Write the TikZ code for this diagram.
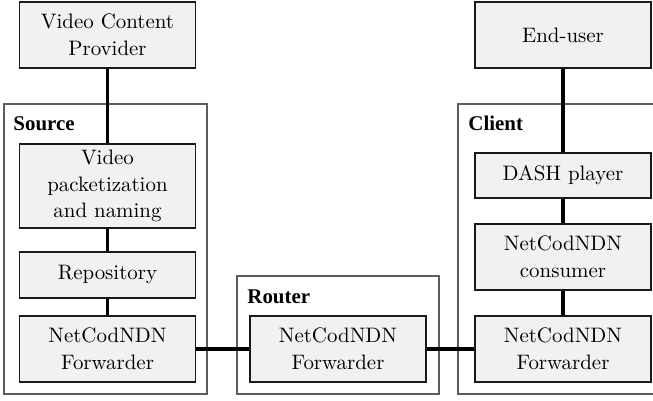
\documentclass[tikz,border=0pt]{standalone}
\usepackage{fontspec}
\newfontfamily\framefont{Liberation Serif}
\usetikzlibrary{calc}
\definecolor{BoxFill}{HTML}{F1F1F1}
\definecolor{FrameGray}{HTML}{5C5C5C}
\tikzset{
    block/.style={draw=black!90, fill=BoxFill, line width=.8pt, minimum width=84pt, inner sep=0pt, align=center, font=\fontsize{10pt}{12.7pt}\selectfont},
    frame/.style={draw=FrameGray, line width=.7pt},
    framelabel/.style={anchor=base west, inner sep=0pt, font=\framefont\bfseries},
    link/.style={line width=1.8pt}
}
\begin{document}
\begin{tikzpicture}[x=.478pt, y=-.478pt]
    \useasboundingbox (0,0) rectangle (653,401);
    % machines
    \draw[frame] (4,104) rectangle (207,394);
    \node[framelabel] (srclabel) at (13,131) {Source};
    \draw[frame] (237,276) rectangle (439,394);
    \node[framelabel] (rtrlabel) at (247,304) {Router};
    \draw[frame] (458,104) rectangle (668,394);
    \node[framelabel] (clilabel) at (468,131) {Client};
    % source side
    \node[block, minimum height=31.5pt] (provider) at (107.5,35) {Video Content\\Provider};
    \node[block, minimum height=40.2pt] (packetize) at (107.5,186) {Video\\packetization\\and naming};
    \node[block, minimum height=22pt] (repo) at (107.5,275) {Repository};
    \node[block, minimum height=31.5pt] (srcfwd) at (107.5,349) {NetCodNDN\\Forwarder};
    % router
    \node[block, minimum height=31.5pt] (rtrfwd) at (338,349) {NetCodNDN\\Forwarder};
    % client side
    \node[block, minimum height=31.5pt] (enduser) at (563,35) {End-user};
    \node[block, minimum height=21.5pt] (player) at (563,175.5) {DASH player};
    \node[block, minimum height=31.5pt] (consumer) at (563,257) {NetCodNDN\\consumer};
    \node[block, minimum height=31.5pt] (clifwd) at (563,349) {NetCodNDN\\Forwarder};
    % links
    \foreach \a/\b in {provider/packetize, packetize/repo, repo/srcfwd, srcfwd/rtrfwd, rtrfwd/clifwd, enduser/player, player/consumer, consumer/clifwd}
        {
            \draw[link] (\a) -- (\b);
        }
\end{tikzpicture}
\end{document}
